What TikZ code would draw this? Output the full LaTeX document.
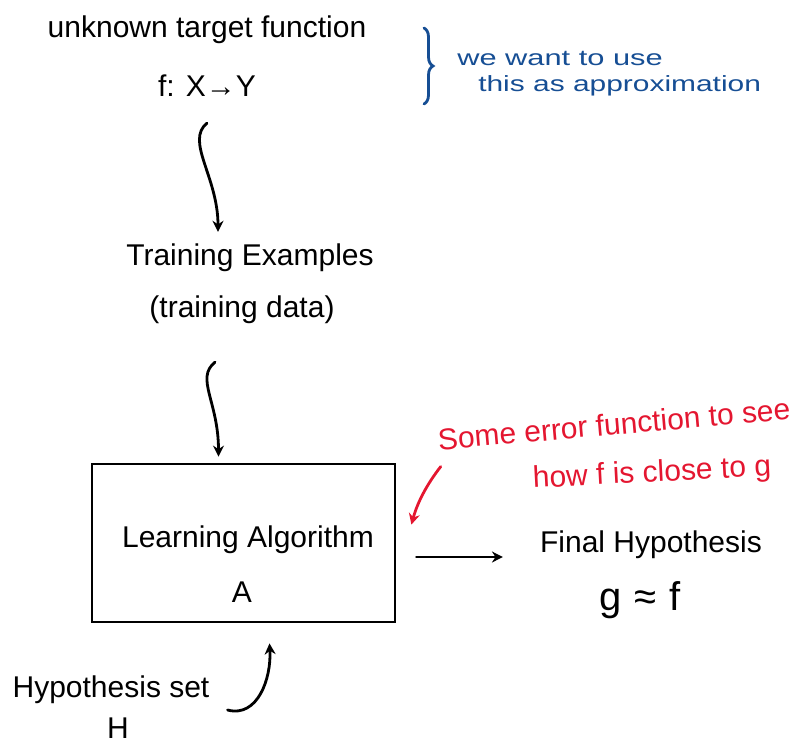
\documentclass[tikz,border=0pt]{standalone}
\usepackage{fontspec}
\setmainfont{Liberation Sans}
\usetikzlibrary{arrows.meta,decorations.pathreplacing}
\definecolor{inkblue}{RGB}{22,78,148}
\definecolor{inkred}{RGB}{228,22,48}
\begin{document}
\begin{tikzpicture}[x=1pt,y=-1pt,
  hand/.style={font=\fontsize{30}{36}\selectfont, inner sep=0pt},
  small/.style={font=\fontsize{22}{22}\selectfont, inner sep=0pt},
  conn/.style={line width=2.8pt, line cap=round, -{Stealth[length=11pt,width=11pt]}},
  algbox/.style={draw, line width=2.8pt, minimum width=303pt, minimum height=158pt, inner sep=0pt}]
\useasboundingbox (0,0) rectangle (808,746);
% box
\node[algbox] (box) at (243.5,543) {};
\node[hand] (la) at (248,540) {Learning Algorithm};
\node[hand] (A) at (242,592) {A};
% top
\node[hand] (uf) at (207,30) {unknown target function};
\node[hand] (f) at (207,86) {f: X→Y};
\draw[inkblue, line width=2.8pt, line cap=round, decorate, decoration={brace, amplitude=9pt}] (424,28) -- (424,104);
\node[small, inkblue, anchor=west, xscale=1.4, transform shape] (w1) at (457,58) {we want to use};
\node[small, inkblue, anchor=west, xscale=1.36, transform shape] (w2) at (478,86) {this as approximation};
% training
\node[hand] (te) at (250,258) {Training Examples};
\node[hand] (td) at (242,310) {(training data)};
\draw[conn] ([yshift=-26pt]f.south) .. controls +(-22,18) and +(0,-55) .. ([shift={(-32pt,12pt)}]te.north);
\draw[conn] ([shift={(-27pt,-38pt)}]td.south) .. controls +(-20,16) and +(0,-55) .. ([shift={(-25pt,6pt)}]box.north);
% red note
\node[hand, inkred, rotate=5] (e1) at (614,424) {Some error function to see};
\node[hand, inkred, rotate=3] (e2) at (652,474) {how f is close to g};
\draw[conn, inkred] ([shift={(2pt,-16pt)}]e1.south west) .. controls +(-14,18) and +(6,-22) .. ([shift={(15pt,-62pt)}]box.north east);
% final
\node[hand] (fh) at (651,545) {Final Hypothesis};
\node[font=\fontsize{40}{40}\selectfont, inner sep=0pt] (g) at (640,600) {g\,\,≈\,\,f};
\draw[conn] ([shift={(20pt,-14pt)}]box.east) -- ([shift={(-37pt,-12pt)}]fh.west);
% hypothesis set
\node[hand] (hs) at (111,690) {Hypothesis set};
\node[hand] (H) at (118,728) {H};
\draw[conn] ([shift={(18pt,-20pt)}]hs.east) .. controls +(30,8) and +(2,35) .. ([shift={(26pt,-20pt)}]box.south);
\end{tikzpicture}
\end{document}
